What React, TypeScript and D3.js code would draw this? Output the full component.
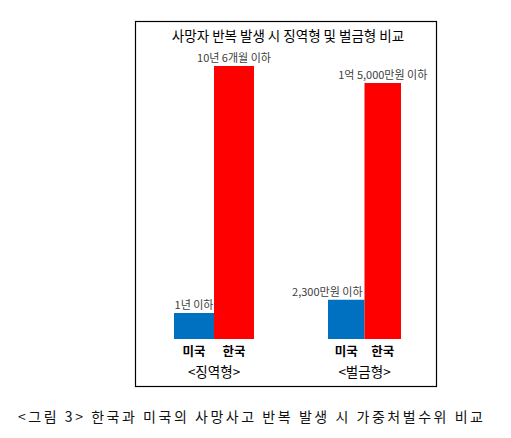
import { useEffect, useRef } from "react"
import * as d3 from "d3"

const groups = ["징역형", "벌금형"]
const countries = ["미국", "한국"]
const jailYears = [1, 10.5]
const jailLabels = ["1년 이하", "10년 6개월 이하"]
const fineManwon = [2300, 15000]
const fineLabels = ["2,300만원 이하", "1억 5,000만원 이하"]
const colors = ["#0070C0", "#FF0000"]

const title = "사망자 반복 발생 시 징역형 및 벌금형 비교"
const caption = "<그림 3> 한국과 미국의 사망사고 반복 발생 시 가중처벌수위 비교"

export default function App() {
    const svgRef = useRef(null)

    useEffect(() => {
        const width = 511
        const height = 438
        const font = "'Noto Sans CJK KR', 'Noto Sans', sans-serif"
        const baseline = 339

        const svg = d3.select(svgRef.current).attr("width", width).attr("height", height)
        svg.selectAll("*").remove()

        svg.append("rect").attr("width", width).attr("height", height).attr("fill", "#fff")

        // frame
        svg
            .append("rect")
            .attr("x", 135.5)
            .attr("y", 21.5)
            .attr("width", 301)
            .attr("height", 365)
            .attr("fill", "none")
            .attr("stroke", "#000")
            .attr("stroke-width", 1.2)

        svg
            .append("text")
            .attr("x", 288)
            .attr("y", 35)
            .attr("text-anchor", "middle")
            .attr("dominant-baseline", "central")
            .style("font-family", font)
            .style("font-size", "13.5px")
            .attr("fill", "#000")
            .text(title)

        const panels = [
            { values: jailYears, labels: jailLabels, xr: [174, 254], top: 66, anchors: ["middle", "middle"] },
            { values: fineManwon, labels: fineLabels, xr: [328, 401], top: 83, anchors: ["end", "middle"] },
        ]

        panels.forEach((p, gi) => {
            const x = d3.scaleBand().domain(countries).range(p.xr).padding(0)
            const y = d3
                .scaleLinear()
                .domain([0, d3.max(p.values)])
                .range([baseline, p.top])

            const g = svg.append("g")
            const rows = countries.map((c, i) => ({ c, v: p.values[i], label: p.labels[i], i }))

            g.selectAll("rect")
                .data(rows)
                .enter()
                .append("rect")
                .attr("x", (d) => x(d.c))
                .attr("y", (d) => y(d.v))
                .attr("width", x.bandwidth())
                .attr("height", (d) => baseline - y(d.v))
                .attr("fill", (d) => colors[d.i])

            g.selectAll(".val")
                .data(rows)
                .enter()
                .append("text")
                .attr("x", (d) =>
                    p.anchors[d.i] === "end" ? x(d.c) + x.bandwidth() - 2 : x(d.c) + x.bandwidth() / 2
                )
                .attr("y", (d) => y(d.v) - 9)
                .attr("text-anchor", (d) => p.anchors[d.i])
                .attr("dominant-baseline", "central")
                .style("font-family", font)
                .style("font-size", "11px")
                .attr("fill", "#404040")
                .text((d) => d.label)

            g.selectAll(".cat")
                .data(rows)
                .enter()
                .append("text")
                .attr("x", (d) => x(d.c) + x.bandwidth() / 2)
                .attr("y", 350)
                .attr("text-anchor", "middle")
                .attr("dominant-baseline", "central")
                .style("font-family", font)
                .style("font-size", "12.5px")
                .style("font-weight", "bold")
                .attr("fill", "#000")
                .text((d) => d.c)

            g.append("text")
                .attr("x", (p.xr[0] + p.xr[1]) / 2)
                .attr("y", 371)
                .attr("text-anchor", "middle")
                .attr("dominant-baseline", "central")
                .style("font-family", font)
                .style("font-size", "13.5px")
                .attr("fill", "#000")
                .text(`<${groups[gi]}>`)
        })

        svg
            .append("text")
            .attr("x", 18)
            .attr("y", 416)
            .attr("dominant-baseline", "central")
            .attr("textLength", 465)
            .attr("lengthAdjust", "spacing")
            .style("font-family", font)
            .style("font-size", "14px")
            .attr("fill", "#111")
            .text(caption)
    }, [])

    return (
        <div style={{ position: "absolute", left: 0, top: 0 }}>
            <svg ref={svgRef} style={{ display: "block" }}></svg>
        </div>
    )
}
